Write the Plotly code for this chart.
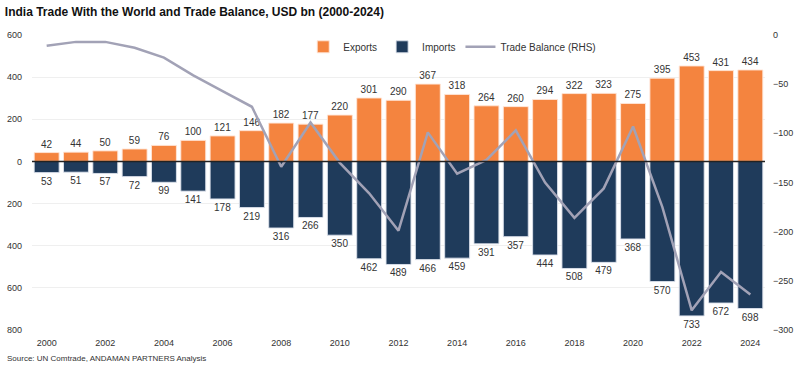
import plotly.graph_objects as go

years = list(range(2000, 2025))
exports = [42, 44, 50, 59, 76, 100, 121, 146, 182, 177, 220, 301, 290, 367, 318,
           264, 260, 294, 322, 323, 275, 395, 453, 431, 434]
imports = [53, 51, 57, 72, 99, 141, 178, 219, 316, 266, 350, 462, 489, 466, 459,
           391, 357, 444, 508, 479, 368, 570, 733, 672, 698]
trade_balance = [-11, -7, -7, -13, -23, -41, -57, -73, -134, -89, -130, -161, -199,
                 -99, -141, -127, -97, -150, -186, -156, -93, -175, -280, -241, -264]

left_ticks = [-800, -600, -400, -200, 0, 200, 400, 600]
left_tick_text = ["800", "600", "400", "200", "0", "200", "400", "600"]
right_ticks = [0, -50, -100, -150, -200, -250, -300]

FONT = "Liberation Sans, Arial, sans-serif"
ORANGE = "#F4843F"
NAVY = "#1F3B5B"
GRAY = "#A2A2B6"
TXT = "#333333"

fig = go.Figure()
fig.add_trace(go.Bar(
    x=years, y=exports, name="Exports",
    marker=dict(color=ORANGE, line=dict(color="rgba(255,230,215,0.9)", width=1)),
    text=[str(v) for v in exports], textposition="outside", cliponaxis=False,
    textfont=dict(size=10, color=TXT, family=FONT), width=0.85,
))
fig.add_trace(go.Bar(
    x=years, y=[-v for v in imports], name="Imports",
    marker=dict(color=NAVY, line=dict(color="rgba(220,225,235,0.9)", width=1)),
    text=[str(v) for v in imports], textposition="outside", cliponaxis=False,
    textfont=dict(size=10, color=TXT, family=FONT), width=0.85,
))
fig.add_trace(go.Scatter(
    x=years, y=trade_balance, name="Trade Balance (RHS)", mode="lines",
    line=dict(color=GRAY, width=2.5), yaxis="y2",
))

fig.update_layout(
    width=800, height=369,
    margin=dict(l=32, r=35, t=35, b=39),
    paper_bgcolor="white", plot_bgcolor="white",
    barmode="overlay",
    font=dict(family=FONT, size=10, color=TXT),
    title=dict(text="<b>India Trade With the World and Trade Balance, USD bn (2000-2024)</b>",
               x=0.006, xanchor="left", y=0.967, yanchor="middle",
               font=dict(size=12, color="#111111", family=FONT)),
    xaxis=dict(range=[1999.5, 2024.5], tickmode="array", tickvals=list(range(2000, 2025, 2)),
               showgrid=False, zeroline=False, showline=False, ticks="", automargin=False,
               ticklabelstandoff=6, tickfont=dict(size=9, color=TXT)),
    yaxis=dict(range=[-800, 600], tickmode="array", tickvals=left_ticks, ticktext=left_tick_text,
               showgrid=True, gridcolor="#EFEFEF", gridwidth=1, zeroline=False, automargin=False,
               ticklabelstandoff=9, tickfont=dict(size=9, color=TXT)),
    yaxis2=dict(range=[-300, 0], overlaying="y", side="right", tickmode="array",
                tickvals=right_ticks, showgrid=False, zeroline=False, automargin=False,
                ticklabelstandoff=7, tickfont=dict(size=9, color=TXT)),
    legend=dict(orientation="h", x=0.37, xanchor="left", y=0.96, yanchor="middle",
                font=dict(size=10, color=TXT), bgcolor="rgba(0,0,0,0)",
                traceorder="normal", itemwidth=30),
    showlegend=True,
)

# zero reference line drawn above the bars
fig.add_shape(type="line", xref="paper", yref="y", x0=0, x1=1, y0=0, y1=0,
              line=dict(color="#222222", width=1.5), layer="above")

fig.add_annotation(text="Source: UN Comtrade, ANDAMAN PARTNERS Analysis",
                   xref="paper", yref="paper", x=-0.037, y=-0.098, xanchor="left", yanchor="middle",
                   showarrow=False, font=dict(size=8, color=TXT, family=FONT))

fig.write_html("out.html", config={"displayModeBar": False},
               post_script="document.body.style.margin='0';document.body.style.overflow='hidden';")
